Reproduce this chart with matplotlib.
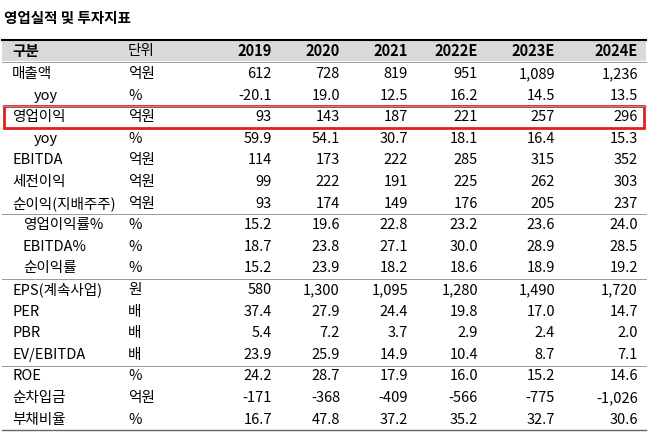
import matplotlib
matplotlib.use("Agg")
import matplotlib.pyplot as plt
from matplotlib.patches import Rectangle

plt.rcParams["font.family"] = ["Noto Sans CJK KR", "Noto Sans CJK JP", "Noto Sans CJK SC", "DejaVu Sans"]

title = "영업실적 및 투자지표"
years = ["2019", "2020", "2021", "2022E", "2023E", "2024E"]
labels = ["매출액", "yoy", "영업이익", "yoy", "EBITDA", "세전이익", "순이익(지배주주)",
          "영업이익률%", "EBITDA%", "순이익률", "EPS(계속사업)", "PER", "PBR",
          "EV/EBITDA", "ROE", "순차입금", "부채비율"]
indent = [0, 2, 0, 2, 0, 0, 0, 1, 1, 1, 0, 0, 0, 0, 0, 0, 0]
units = ["억원", "%", "억원", "%", "억원", "억원", "억원", "%", "%", "%", "원",
         "배", "배", "배", "%", "억원", "%"]
values = [
    ["612", "728", "819", "951", "1,089", "1,236"],
    ["-20.1", "19.0", "12.5", "16.2", "14.5", "13.5"],
    ["93", "143", "187", "221", "257", "296"],
    ["59.9", "54.1", "30.7", "18.1", "16.4", "15.3"],
    ["114", "173", "222", "285", "315", "352"],
    ["99", "222", "191", "225", "262", "303"],
    ["93", "174", "149", "176", "205", "237"],
    ["15.2", "19.6", "22.8", "23.2", "23.6", "24.0"],
    ["18.7", "23.8", "27.1", "30.0", "28.9", "28.5"],
    ["15.2", "23.9", "18.2", "18.6", "18.9", "19.2"],
    ["580", "1,300", "1,095", "1,280", "1,490", "1,720"],
    ["37.4", "27.9", "24.4", "19.8", "17.0", "14.7"],
    ["5.4", "7.2", "3.7", "2.9", "2.4", "2.0"],
    ["23.9", "25.9", "14.9", "10.4", "8.7", "7.1"],
    ["24.2", "28.7", "17.9", "16.0", "15.2", "14.6"],
    ["-171", "-368", "-409", "-566", "-775", "-1,026"],
    ["16.7", "47.8", "37.2", "35.2", "32.7", "30.6"],
]

W, H = 648, 444
fig = plt.figure(figsize=(W / 100, H / 100), dpi=100)
ax = fig.add_axes([0, 0, 1, 1])
ax.set_xlim(0, W)
ax.set_ylim(H, 0)
ax.axis("off")

fs = 10.5
col_x = [272, 340, 408, 478, 555, 638]

ax.text(4, 18, title, fontsize=10.5, fontweight="bold", va="center")

# header
ax.add_patch(Rectangle((2, 40), W - 4, 21, color="#d9d9d9", lw=0))
ax.plot([2, W - 2], [40, 40], color="black", lw=1.5)
ax.text(12, 51, "구분", fontsize=fs, fontweight="bold", va="center")
ax.text(128, 51, "단위", fontsize=fs, va="center")
for x, y in zip(col_x, years):
    ax.text(x, 51, y, fontsize=fs, fontweight="bold", va="center", ha="right")

y0, dy = 74, 21.6
for i, (lab, u, row) in enumerate(zip(labels, units, values)):
    y = y0 + i * dy
    ax.text(12 + indent[i] * 11, y, lab, fontsize=fs, va="center")
    ax.text(128, y, u, fontsize=fs, va="center")
    for x, v in zip(col_x, row):
        ax.text(x, y, v, fontsize=fs, va="center", ha="right")

# group separators
for after in [1, 6, 9, 13]:
    yy = y0 + (after + 0.5) * dy
    ax.plot([2, W - 2], [yy, yy], color="#999999", lw=0.7)
ax.plot([2, W - 2], [62, 62], color="#999999", lw=0.7)
ax.plot([2, W - 2], [y0 + 16.5 * dy, y0 + 16.5 * dy], color="#666666", lw=1)

# highlight box around 영업이익
yb = y0 + 2 * dy
ax.add_patch(Rectangle((4, yb - 11), W - 8, 22, fill=False, ec="#e02020", lw=2))

fig.savefig("out.png", dpi=100)
